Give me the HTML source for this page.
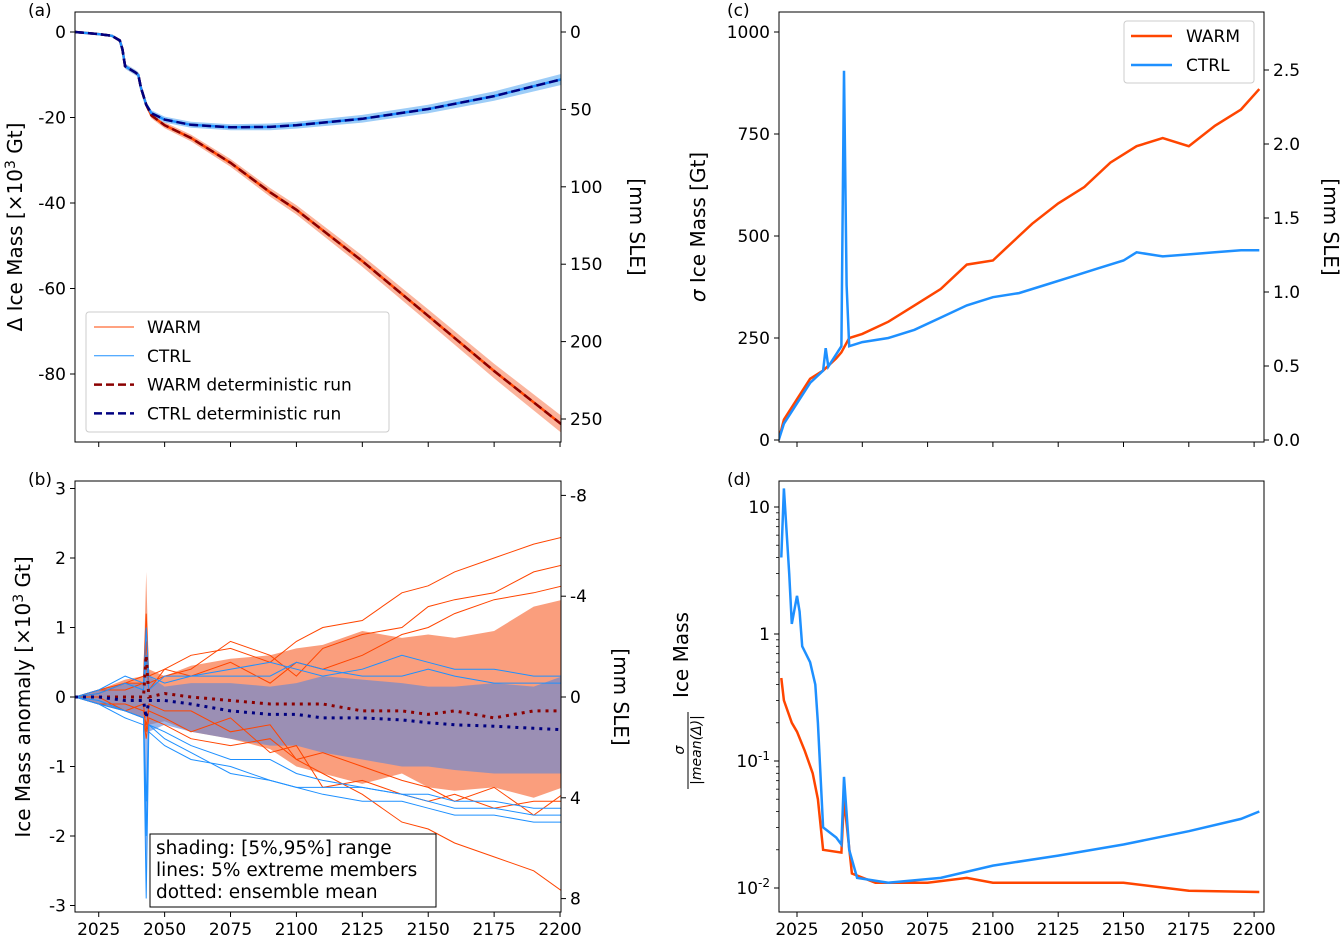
<!DOCTYPE html>
<html><head><meta charset="utf-8"><style>
html,body{margin:0;padding:0;background:#fff;}
svg{display:block;font-family:"DejaVu Sans","Liberation Sans",sans-serif;}
</style></head><body>
<svg id="fig" width="1341" height="937" viewBox="0 0 1341 937" xmlns="http://www.w3.org/2000/svg">
<defs>
<clipPath id="clipA"><rect x="75" y="12" width="486" height="430"/></clipPath>
<clipPath id="clipB"><rect x="75" y="481" width="486" height="431"/></clipPath>
<clipPath id="clipC"><rect x="779" y="12" width="485" height="430"/></clipPath>
<clipPath id="clipD"><rect x="779" y="481" width="485" height="431"/></clipPath>
</defs>
</svg>
<script>
// ---------- Panel (a) data ----------
const yearsA = [2016,2025,2030,2033,2034,2035,2039,2040,2041,2043,2045,2050,2060,2075,2090,2100,2125,2150,2175,2201];
const warmDetA = [0,-0.5,-0.9,-2,-4,-8,-9.5,-10,-13,-17,-19.5,-21.8,-24.8,-30.6,-37.5,-41.6,-53.6,-66.4,-79.3,-92];
const ctrlDetA = [0,-0.5,-0.9,-2,-4,-8,-9.5,-10,-13,-17,-19,-20.5,-21.7,-22.3,-22.2,-21.8,-20.3,-18,-15,-11];
const warmSpreadA = [0,0.2,0.3,0.4,0.5,0.6,0.6,0.6,0.6,0.7,0.7,0.7,0.8,0.9,1.0,1.1,1.3,1.5,1.7,2.0];
const ctrlSpreadA = [0,0.2,0.3,0.4,0.5,0.6,0.6,0.6,0.6,0.7,0.7,0.7,0.7,0.7,0.8,0.8,0.9,1.0,1.1,1.3];
const yTicksA = [0,-20,-40,-60,-80];
const yTicksAR = [0,50,100,150,200,250];
// ---------- Panel (b) data ----------
const yearsB = [2016,2025,2035,2042,2043,2044,2050,2060,2075,2090,2100,2110,2125,2140,2150,2160,2175,2190,2201];
const warmP95 = [0,0.1,0.25,0.3,1.8,0.4,0.3,0.45,0.55,0.6,0.7,0.75,0.95,0.85,0.9,0.85,0.95,1.3,1.4];
const warmP5 = [0,-0.1,-0.2,-0.3,-0.3,-0.4,-0.35,-0.5,-0.6,-0.75,-1.0,-1.1,-1.25,-1.1,-1.3,-1.35,-1.3,-1.45,-1.3];
const ctrlP95 = [0,0.1,0.2,0.2,1.0,0.3,0.15,0.2,0.2,0.15,0.2,0.3,0.25,0.2,0.15,0.15,0.2,0.15,0.3];
const ctrlP5 = [0,-0.1,-0.2,-0.3,-2.9,-0.5,-0.4,-0.5,-0.6,-0.7,-0.7,-0.8,-0.9,-1.0,-1.0,-1.05,-1.1,-1.1,-1.1];
const warmMean = [0,0,0,0,0.6,0,0.05,0,-0.05,-0.1,-0.1,-0.1,-0.2,-0.2,-0.25,-0.2,-0.3,-0.2,-0.2];
const ctrlMean = [0,0,-0.05,-0.05,-0.3,-0.05,-0.05,-0.1,-0.2,-0.25,-0.25,-0.3,-0.3,-0.33,-0.37,-0.4,-0.42,-0.45,-0.47];
const warmM1 = [0,0.1,0.2,0.3,1.2,0.3,0.4,0.6,0.7,0.5,0.8,1.0,1.1,1.5,1.6,1.8,2.0,2.2,2.3];
const warmM2 = [0,0.05,0.2,0.2,0.8,0.2,0.3,0.4,0.8,0.6,0.3,0.7,0.9,1.0,1.3,1.4,1.5,1.8,1.9];
const warmM3 = [0,0.1,0.1,0.2,0.5,0.1,0.4,0.3,0.5,0.2,0.5,0.4,0.6,0.9,1.0,1.2,1.4,1.5,1.6];
const warmM4 = [0,-0.1,-0.2,-0.3,-0.6,-0.3,-0.4,-0.6,-0.7,-0.6,-0.9,-1.1,-1.4,-1.8,-1.9,-2.1,-2.3,-2.5,-2.8];
const warmM5 = [0,-0.1,-0.1,-0.2,-0.4,-0.2,-0.3,-0.5,-0.3,-0.8,-0.7,-1.3,-1.2,-1.4,-1.5,-1.4,-1.6,-1.5,-1.5];
const warmM6 = [0,0,-0.2,-0.1,-0.5,-0.1,-0.2,-0.2,-0.5,-0.4,-0.9,-0.8,-1.0,-1.2,-1.3,-1.5,-1.3,-1.7,-1.4];
const ctrlM1 = [0,0.1,0.3,0.2,1.0,0.3,0.2,0.3,0.4,0.5,0.4,0.3,0.4,0.6,0.5,0.4,0.4,0.3,0.3];
const ctrlM2 = [0,0.05,0.2,0.1,0.6,0.1,0.3,0.3,0.3,0.3,0.5,0.4,0.3,0.3,0.4,0.3,0.2,0.2,0.2];
const ctrlM3 = [0,-0.1,-0.3,-0.4,-2.9,-0.5,-0.7,-0.9,-1.0,-1.2,-1.3,-1.4,-1.5,-1.5,-1.6,-1.7,-1.7,-1.8,-1.8];
const ctrlM4 = [0,-0.1,-0.2,-0.3,-2.0,-0.4,-0.6,-0.8,-1.1,-1.2,-1.3,-1.3,-1.3,-1.4,-1.5,-1.6,-1.6,-1.7,-1.7];
const ctrlM5 = [0,-0.05,-0.2,-0.3,-1.5,-0.4,-0.5,-0.7,-0.9,-0.9,-1.1,-1.2,-1.3,-1.4,-1.4,-1.5,-1.5,-1.6,-1.6];
const yTicksB = [3,2,1,0,-1,-2,-3];
const yTicksBR = [-8,-4,0,4,8];
const xTicksAB = [2025,2050,2075,2100,2125,2150,2175,2200];
// ---------- Panel (c) data ----------
const yearsCW = [2018,2020,2025,2030,2035,2040,2042,2045,2050,2060,2070,2080,2090,2100,2105,2115,2125,2135,2145,2155,2165,2175,2185,2195,2202];
const warmSigma = [0,50,100,150,170,200,215,250,260,290,330,370,430,440,470,530,580,620,680,720,740,720,770,810,860];
const yearsCC = [2018,2020,2025,2030,2035,2036,2037,2040,2042,2043,2044,2045,2050,2060,2070,2080,2090,2095,2100,2110,2120,2130,2140,2150,2155,2165,2175,2185,2195,2202];
const ctrlSigma = [0,40,90,140,170,225,180,210,230,905,380,230,240,250,270,300,330,340,350,360,380,400,420,440,460,450,455,460,465,465];
const yTicksC = [0,250,500,750,1000];
const yTicksCR = [0.0,0.5,1.0,1.5,2.0,2.5];
const xTicksCD = [2025,2050,2075,2100,2125,2150,2175,2200];
// ---------- Panel (d) data ----------
const yearsDC = [2019,2020,2022,2023,2025,2026,2027,2030,2032,2033,2035,2040,2042,2043,2045,2048,2060,2080,2100,2125,2150,2175,2195,2202];
const ctrlRatio = [4,14,3,1.2,2,1.5,0.8,0.6,0.4,0.2,0.03,0.025,0.022,0.075,0.02,0.012,0.011,0.012,0.015,0.018,0.022,0.028,0.035,0.04];
const yearsDW = [2019,2020,2023,2025,2028,2031,2033,2035,2042,2043,2046,2055,2075,2090,2100,2125,2150,2175,2202];
const warmRatio = [0.45,0.3,0.2,0.17,0.12,0.08,0.05,0.02,0.019,0.05,0.013,0.011,0.011,0.012,0.011,0.011,0.011,0.0095,0.0093];
const yTicksD = [10,1,0.1,0.01];

const WARM = '#ff4500', CTRL = '#1e90ff';
const svg = document.getElementById('fig');
const NS = 'http://www.w3.org/2000/svg';
function el(tag, attrs, parent){
  const e = document.createElementNS(NS, tag);
  for (const k in attrs) e.setAttribute(k, attrs[k]);
  (parent || svg).appendChild(e);
  return e;
}
// scales
const xAB = y => 75 + (y - 2016) * (65.9 / 25);
const xCD = y => 797 + (y - 2025) * (65.3 / 25);
const yA = v => 32 - v * 4.275;
const yAR = mm => 32 + mm * 1.548;
const yB = v => 697 - v * 69.5;
const yBR = mm => 697 + mm * 25.2;
const yC = v => 440 - v * 0.408;
const yCR = s => 440 - s * 148;
const yD = v => 888 - (Math.log10(v) + 2) * 127;

function pathOf(xs, vs, fx, fy){ return xs.map((x,i)=>(i?'L':'M')+fx(x).toFixed(1)+','+fy(vs[i]).toFixed(1)).join(''); }
function bandOf(xs, lo, hi, fx, fy){
  let d = xs.map((x,i)=>(i?'L':'M')+fx(x).toFixed(1)+','+fy(hi[i]).toFixed(1)).join('');
  for (let i = xs.length-1; i >= 0; i--) d += 'L'+fx(xs[i]).toFixed(1)+','+fy(lo[i]).toFixed(1);
  return d + 'Z';
}
function text(x, y, s, opts, parent){
  const t = el('text', Object.assign({x:x, y:y, 'font-size':17, fill:'#000'}, opts||{}), parent);
  t.textContent = s;
  return t;
}

function frame(x, y, w, h, name){
  const r = el('rect', {x:x, y:y, width:w, height:h, fill:'none', stroke:'#000', 'stroke-width':1});
  
  
}
function xAxis(ticks, fx, yb, labels, name){
  const g = el('g', {});
  
  
  ticks.forEach(t => {
    el('line', {x1:fx(t), x2:fx(t), y1:yb, y2:yb+5, stroke:'#000'}, g);
    if (labels) text(fx(t), yb+23, String(t), {'text-anchor':'middle'}, g);
  });
}
function yAxisLeft(ticks, fy, xl, fmt, name){
  const g = el('g', {});
  
  
  ticks.forEach(t => {
    el('line', {x1:xl-5, x2:xl, y1:fy(t), y2:fy(t), stroke:'#000'}, g);
    text(xl-9, fy(t)+6, fmt(t), {'text-anchor':'end'}, g);
  });
}
function yAxisRight(ticks, fy, xr, fmt, name){
  const g = el('g', {});
  
  
  ticks.forEach(t => {
    el('line', {x1:xr, x2:xr+5, y1:fy(t), y2:fy(t), stroke:'#000'}, g);
    text(xr+9, fy(t)+6, fmt(t), {'text-anchor':'start'}, g);
  });
}
function vlabel(x, y, s, rot, name, size){
  const t = text(x, y, s, {'text-anchor':'middle', 'font-size':size||20, transform:`rotate(${rot} ${x} ${y})`});
  
  
  return t;
}
const fmtNum = v => String(v).replace('-', '-');

// ================= Panel (a) =================
{
  const g = el('g', {'clip-path':'url(#clipA)'});
  
  
  const wLo = warmDetA.map((v,i)=>v-warmSpreadA[i]), wHi = warmDetA.map((v,i)=>v+warmSpreadA[i]);
  const cLo = ctrlDetA.map((v,i)=>v-ctrlSpreadA[i]), cHi = ctrlDetA.map((v,i)=>v+ctrlSpreadA[i]);
  const wb = el('path', {d:bandOf(yearsA, wLo, wHi, xAB, yA), fill:'#fbb49c', stroke:'none'}, g);
  
  
  const cb = el('path', {d:bandOf(yearsA, cLo, cHi, xAB, yA), fill:'#9dcdf8', stroke:'none'}, g);
  
  
  const wl = el('path', {d:pathOf(yearsA, warmDetA, xAB, yA), fill:'none', stroke:WARM, 'stroke-width':2.5}, g);
  
  
  const cl = el('path', {d:pathOf(yearsA, ctrlDetA, xAB, yA), fill:'none', stroke:CTRL, 'stroke-width':2.5}, g);
  
  
  const wd = el('path', {d:pathOf(yearsA, warmDetA, xAB, yA), fill:'none', stroke:'#8b0000', 'stroke-width':2.5, 'stroke-dasharray':'9,4'}, g);
  
  
  const cd = el('path', {d:pathOf(yearsA, ctrlDetA, xAB, yA), fill:'none', stroke:'#000080', 'stroke-width':2.5, 'stroke-dasharray':'9,4'}, g);
  
  
  frame(75, 12, 486, 430, 'panel-a-frame');
  xAxis(xTicksAB, xAB, 442, false, 'panel-a-x-axis');
  yAxisLeft(yTicksA, yA, 75, fmtNum, 'panel-a-y-axis');
  yAxisRight(yTicksAR, yAR, 561, fmtNum, 'panel-a-y-axis-right');
  const lt = text(28, 16, '(a)', {'font-size':17});
  
  
  const yl = el('text', {x:22, y:227, 'font-size':20, 'text-anchor':'middle', transform:'rotate(-90 22 227)'});
  yl.innerHTML = 'Δ Ice Mass [×10<tspan dy="-7" font-size="14">3</tspan><tspan dy="7"> Gt]</tspan>';
  
  
  vlabel(630, 227, '[mm SLE]', 90, 'panel-a-y-axis-right-title');
  // legend
  const lg = el('g', {});
  
  
  el('rect', {x:86, y:312, width:303, height:120, rx:3, fill:'#fff', 'fill-opacity':0.85, stroke:'#ccc'}, lg);
  const items = [['WARM', WARM, 1, null], ['CTRL', CTRL, 1, null], ['WARM deterministic run', '#8b0000', 2.5, '8,4'], ['CTRL deterministic run', '#000080', 2.5, '8,4']];
  items.forEach((it, i) => {
    const yy = 327 + i * 28.8;
    const e = el('g', {}, lg);
    
    
    const a = {x1:94, x2:134, y1:yy, y2:yy, stroke:it[1], 'stroke-width':it[2]};
    if (it[3]) a['stroke-dasharray'] = it[3];
    el('line', a, e);
    text(147, yy+6, it[0], {}, e);
  });
}

// ================= Panel (b) =================
{
  const g = el('g', {'clip-path':'url(#clipB)'});
  
  
  const wb = el('path', {d:bandOf(yearsB, warmP5, warmP95, xAB, yB), fill:'#f9946f', 'fill-opacity':0.9}, g);
  
  
  const cb = el('path', {d:bandOf(yearsB, ctrlP5, ctrlP95, xAB, yB), fill:'#5c86d8', 'fill-opacity':0.6}, g);
  
  
  [warmM1, warmM2, warmM3, warmM4, warmM5, warmM6].forEach(m => {
    const p = el('path', {d:pathOf(yearsB, m, xAB, yB), fill:'none', stroke:WARM, 'stroke-width':1}, g);
    
    
  });
  [ctrlM1, ctrlM2, ctrlM3, ctrlM4, ctrlM5].forEach(m => {
    const p = el('path', {d:pathOf(yearsB, m, xAB, yB), fill:'none', stroke:CTRL, 'stroke-width':1}, g);
    
    
  });
  const wm = el('path', {d:pathOf(yearsB, warmMean, xAB, yB), fill:'none', stroke:'#8b0000', 'stroke-width':3, 'stroke-dasharray':'3,5'}, g);
  
  
  const cm = el('path', {d:pathOf(yearsB, ctrlMean, xAB, yB), fill:'none', stroke:'#000080', 'stroke-width':3, 'stroke-dasharray':'3,5'}, g);
  
  
  frame(75, 481, 486, 431, 'panel-b-frame');
  xAxis(xTicksAB, xAB, 912, true, 'panel-b-x-axis');
  yAxisLeft(yTicksB, yB, 75, fmtNum, 'panel-b-y-axis');
  yAxisRight(yTicksBR, yBR, 561, fmtNum, 'panel-b-y-axis-right');
  const lt = text(28, 485, '(b)', {'font-size':17});
  
  
  const yl = el('text', {x:30, y:697, 'font-size':20, 'text-anchor':'middle', transform:'rotate(-90 30 697)'});
  yl.innerHTML = 'Ice Mass anomaly [×10<tspan dy="-7" font-size="14">3</tspan><tspan dy="7"> Gt]</tspan>';
  
  
  vlabel(614, 697, '[mm SLE]', 90, 'panel-b-y-axis-right-title');
  const nb = el('g', {});
  
  
  el('rect', {x:150, y:834, width:286, height:73, fill:'#fff', stroke:'#000'}, nb);
  text(156, 854, 'shading: [5%,95%] range', {'font-size':18.5}, nb);
  text(156, 876, 'lines: 5% extreme members', {'font-size':18.5}, nb);
  text(156, 898, 'dotted: ensemble mean', {'font-size':18.5}, nb);
}

// ================= Panel (c) =================
{
  const g = el('g', {'clip-path':'url(#clipC)'});
  
  
  const w = el('path', {d:pathOf(yearsCW, warmSigma, xCD, yC), fill:'none', stroke:WARM, 'stroke-width':2.5}, g);
  
  
  const c = el('path', {d:pathOf(yearsCC, ctrlSigma, xCD, yC), fill:'none', stroke:CTRL, 'stroke-width':2.5}, g);
  
  
  frame(779, 12, 485, 430, 'panel-c-frame');
  xAxis(xTicksCD, xCD, 442, false, 'panel-c-x-axis');
  yAxisLeft(yTicksC, yC, 779, fmtNum, 'panel-c-y-axis');
  yAxisRight(yTicksCR, yCR, 1264, v => v.toFixed(1), 'panel-c-y-axis-right');
  const lt = text(727, 16, '(c)', {'font-size':17});
  
  
  const yl = el('text', {x:705, y:227, 'font-size':20, 'text-anchor':'middle', transform:'rotate(-90 705 227)'});
  yl.innerHTML = '<tspan font-style="italic">σ</tspan> Ice Mass [Gt]';
  
  
  vlabel(1324, 227, '[mm SLE]', 90, 'panel-c-y-axis-right-title');
  const lg = el('g', {});
  
  
  el('rect', {x:1124, y:21, width:130, height:62, rx:3, fill:'#fff', stroke:'#ccc'}, lg);
  [['WARM', WARM], ['CTRL', CTRL]].forEach((it, i) => {
    const yy = 36 + i * 29;
    const e = el('g', {}, lg);
    
    
    el('line', {x1:1131, x2:1172, y1:yy, y2:yy, stroke:it[1], 'stroke-width':2.5}, e);
    text(1186, yy+6, it[0], {}, e);
  });
}

// ================= Panel (d) =================
{
  const g = el('g', {'clip-path':'url(#clipD)'});
  
  
  const w = el('path', {d:pathOf(yearsDW, warmRatio, xCD, yD), fill:'none', stroke:WARM, 'stroke-width':2.5}, g);
  
  
  const c = el('path', {d:pathOf(yearsDC, ctrlRatio, xCD, yD), fill:'none', stroke:CTRL, 'stroke-width':2.5}, g);
  
  
  frame(779, 481, 485, 431, 'panel-d-frame');
  xAxis(xTicksCD, xCD, 912, true, 'panel-d-x-axis');
  const ya = el('g', {});
  
  
  yTicksD.forEach(t => {
    el('line', {x1:774, x2:779, y1:yD(t), y2:yD(t), stroke:'#000'}, ya);
    const tt = text(770, yD(t)+6, '', {'text-anchor':'end'}, ya);
    if (t === 10) tt.textContent = '10';
    else if (t === 1) tt.textContent = '1';
    else tt.innerHTML = '10<tspan dy="-7" font-size="12">' + Math.round(Math.log10(t)) + '</tspan>';
  });
  for (let dec = 0.01; dec < 20; dec *= 10) {
    for (let k = 2; k <= 9; k++) {
      const v = dec * k;
      const yy = yD(v);
      if (yy < 481 || yy > 912) continue;
      el('line', {x1:776, x2:779, y1:yy, y2:yy, stroke:'#000', 'stroke-width':0.8}, ya);
    }
  }
  const lt = text(727, 485, '(d)', {'font-size':17});
  
  
  const yl = el('g', {});
  
  
  text(688, 655, 'Ice Mass', {'font-size':20, 'text-anchor':'middle', transform:'rotate(-90 688 655)'}, yl);
  text(684, 750, 'σ', {'font-size':14, 'font-style':'italic', 'text-anchor':'middle', transform:'rotate(-90 684 750)'}, yl);
  el('line', {x1:688, x2:688, y1:712, y2:789, stroke:'#000', 'stroke-width':1}, yl);
  text(701, 750, '|mean(Δ)|', {'font-size':14, 'font-style':'italic', 'text-anchor':'middle', transform:'rotate(-90 701 750)'}, yl);
}
</script>
</body></html>
